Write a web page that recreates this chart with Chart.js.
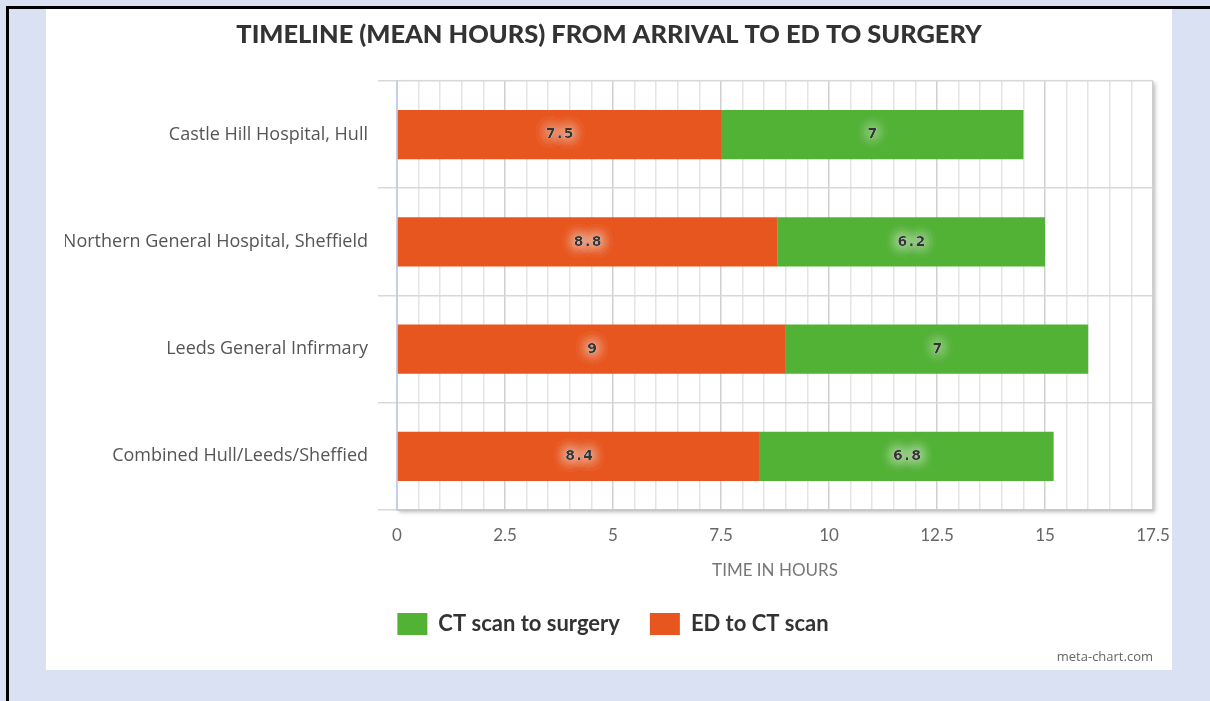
<!DOCTYPE html>
<html>
<head>
<meta charset="utf-8">
<script src="https://cdn.jsdelivr.net/npm/chart.js@4.4.1/dist/chart.umd.min.js"></script>
<style>
  html, body { margin: 0; padding: 0; }
  body { width: 1210px; height: 701px; background: #d9e1f2; position: relative; overflow: hidden; }
  #frameTop { position: absolute; left: 6px; top: 6px; width: 1204px; height: 3px; background: #000; }
  #frameLeft { position: absolute; left: 6px; top: 6px; width: 3px; height: 695px; background: #000; }
  #panel { position: absolute; left: 46px; top: 9px; width: 1126px; height: 661px; background: #fff; }
  #chartBox { position: absolute; left: 0; top: 0; width: 1126px; height: 661px; }
  #credit { position: absolute; right: 19px; top: 638px; font: 13px "Open Sans", sans-serif; color: #666; }
</style>
</head>
<body>
<div id="frameTop"></div>
<div id="frameLeft"></div>
<div id="panel">
  <div id="chartBox"><canvas id="c" width="1126" height="661"></canvas></div>
  <div id="credit">meta-chart.com</div>
</div>
<script>
const categories = [
  "Castle Hill Hospital, Hull",
  "Northern General Hospital, Sheffield",
  "Leeds General Infirmary",
  "Combined Hull/Leeds/Sheffied"
];
const edToCtScan = [7.5, 8.8, 9, 8.4];
const ctScanToSurgery = [7, 6.2, 7, 6.8];
const seriesNames = ["ED to CT scan", "CT scan to surgery"];
const xTickLabels = [0, 2.5, 5, 7.5, 10, 12.5, 15, 17.5];
const chartTitle = "TIMELINE (MEAN HOURS) FROM ARRIVAL TO ED TO SURGERY";
const xAxisTitle = "TIME IN HOURS";

const ORANGE = "#e8561f";
const GREEN = "#52b236";

const panelShadow = {
  id: "panelShadow",
  beforeDraw(chart) {
    const a = chart.chartArea, ctx = chart.ctx;
    ctx.save();
    ctx.shadowColor = "rgba(0,0,0,0.28)";
    ctx.shadowBlur = 4;
    ctx.shadowOffsetX = 2;
    ctx.shadowOffsetY = 2;
    ctx.fillStyle = "#fff";
    ctx.fillRect(a.left, a.top, a.right - a.left, a.bottom - a.top);
    ctx.restore();
  }
};

const legendShift = {
  id: "legendShift",
  afterLayout(chart) {
    if (chart.legend) { chart.legend.left += 4; chart.legend.right += 4; }
  }
};

const valueLabels = {
  id: "valueLabels",
  afterDatasetsDraw(chart) {
    const ctx = chart.ctx;
    ctx.save();
    ctx.font = "bold 14px 'DejaVu Sans', sans-serif";
    ctx.textAlign = "center";
    ctx.textBaseline = "middle";
    try { ctx.letterSpacing = "1.5px"; } catch (e) {}
    chart.data.datasets.forEach((ds, di) => {
      const meta = chart.getDatasetMeta(di);
      meta.data.forEach((el, i) => {
        const p = el.getCenterPoint();
        const txt = String(ds.data[i]);
        ctx.shadowColor = "rgba(255,255,255,1)";
        ctx.shadowBlur = 14;
        ctx.fillStyle = "rgba(255,255,255,0.5)";
        for (let k = 0; k < 6; k++) ctx.fillText(txt, p.x + 1, p.y);
        ctx.shadowBlur = 0;
        ctx.fillStyle = "#333";
        ctx.fillText(txt, p.x + 1, p.y);
      });
    });
    ctx.restore();
  }
};

new Chart(document.getElementById("c"), {
  type: "bar",
  data: {
    labels: categories,
    datasets: [
      { label: seriesNames[0], data: edToCtScan, backgroundColor: ORANGE, barPercentage: 0.46, categoryPercentage: 1 },
      { label: seriesNames[1], data: ctScanToSurgery, backgroundColor: GREEN, barPercentage: 0.46, categoryPercentage: 1 }
    ]
  },
  options: {
    indexAxis: "y",
    responsive: false,
    animation: false,
    layout: { padding: { left: 19, right: 19, top: 0, bottom: 25 } },
    plugins: {
      title: {
        display: true,
        text: chartTitle,
        color: "#333",
        font: { family: "Lato", size: 25.4, weight: "900" },
        padding: { top: 11, bottom: 30.5 }
      },
      legend: {
        display: true,
        position: "bottom",
        reverse: true,
        labels: {
          boxWidth: 30,
          boxHeight: 22,
          padding: 30,
          color: "#333",
          font: { family: "Lato", size: 22, weight: "bold" }
        }
      },
      tooltip: { enabled: false }
    },
    scales: {
      x: {
        stacked: true,
        min: 0,
        max: 17.5,
        afterFit(axis) { axis.height = 73; axis.paddingRight = 0; axis.paddingLeft = 0; },
        afterBuildTicks(axis) {
          const t = [];
          for (let v = 0; v <= 17.5001; v += 0.5) t.push({ value: Math.round(v * 10) / 10 });
          axis.ticks = t;
        },
        ticks: {
          autoSkip: false,
          maxRotation: 0,
          padding: 15,
          color: "#666",
          font: { family: "Lato", size: 17 },
          callback(v) { return xTickLabels.includes(v) ? String(v) : ""; }
        },
        grid: {
          drawTicks: false,
          color(ctx) {
            const v = ctx.tick ? ctx.tick.value : 0;
            return Math.abs(v / 2.5 - Math.round(v / 2.5)) < 1e-6 ? "#cfcfcf" : "#e4e4e4";
          },
          lineWidth: 1.5
        },
        border: { color: "#c8c8c8", width: 2 },
        title: {
          display: true,
          text: xAxisTitle,
          color: "#777",
          font: { family: "Lato", size: 17 },
          padding: { top: 0, bottom: 2.5 }
        }
      },
      y: {
        stacked: true,
        afterFit(axis) { axis.width = 332; },
        ticks: {
          color: "#555",
          padding: 10,
          font: { family: "Open Sans", size: 18 }
        },
        grid: {
          offset: true,
          drawTicks: true,
          tickLength: 19,
          color: "#d8d8d8",
          lineWidth: 1.5
        },
        border: { color: "#c5d0e6", width: 2 }
      }
    }
  },
  plugins: [panelShadow, legendShift, valueLabels]
});
</script>
</body>
</html>
